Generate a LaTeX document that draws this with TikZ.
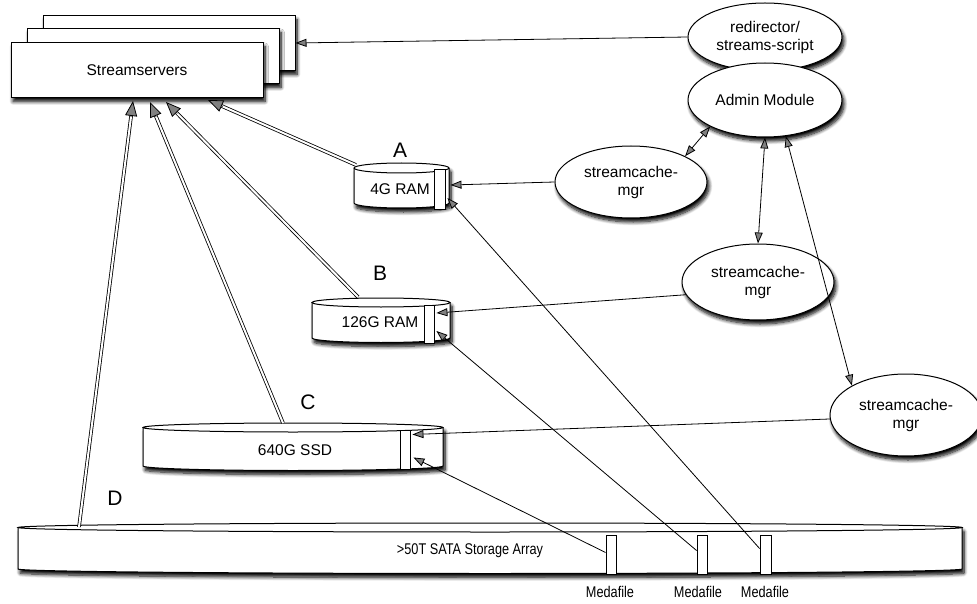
\documentclass[tikz,border=0pt]{standalone}
\usepackage{fontspec}
\setmainfont{Liberation Sans}
\newfontfamily\narrowfont[FakeStretch=0.82]{Liberation Sans}
\usetikzlibrary{arrows.meta,shadows.blur,shapes.geometric,calc}
\newcommand{\drawcyl}[5]{%
  \fill[white,shd] (#1,#3) -- (#1,#4) arc[start angle=180,end angle=0,x radius={(#2-#1)/2},y radius=#5] -- (#2,#3) arc[start angle=0,end angle=-180,x radius={(#2-#1)/2},y radius=#5] -- cycle;
  \draw[line width=1pt] (#1,#3) -- (#1,#4) arc[start angle=180,end angle=0,x radius={(#2-#1)/2},y radius=#5] -- (#2,#3);
  \draw[line width=1pt] ({(#1+#2)/2},#3) ellipse[x radius={(#2-#1)/2},y radius=#5];
}
\newcommand{\fatarrow}[2]{%
  \draw[double,double distance=2pt,line width=0.8pt,shorten >=12pt] (#1) -- (#2);
  \draw[-{Triangle[length=15pt,width=12pt]},line width=0.8pt] ($(#2)!16pt!(#1)$) -- (#2);
}
\begin{document}
\begin{tikzpicture}[x=1pt,y=-1pt,
  shd/.style={blur shadow={shadow xshift=2pt,shadow yshift=-4pt,shadow blur steps=8,shadow blur radius=3.5pt,shadow opacity=100}},
  srv/.style={draw,fill=white,line width=1pt,minimum width=252pt,minimum height=55pt,shd,font=\fontsize{15.5}{18}\selectfont},
  ell/.style={ellipse,draw,fill=white,line width=1pt,shd,align=center,inner sep=0pt,font=\fontsize{15.5}{18}\selectfont},
  slot/.style={draw,fill=white,line width=0.9pt,inner sep=0pt},
  txt/.style={font=\fontsize{15.5}{18}\selectfont},
  lbl/.style={font=\fontsize{21}{24}\selectfont},
  med/.style={font=\narrowfont\fontsize{15.5}{18}\selectfont},
  ar/.style={-{Triangle[length=11pt,width=8pt]},line width=0.8pt},
  dar/.style={{Triangle[length=11pt,width=8pt]}-{Triangle[length=11pt,width=8pt]},line width=0.8pt}]
\useasboundingbox (0,0) rectangle (977,604);
% streamservers stack
\node[srv] (s3) at (169,43) {};
\node[srv] (s2) at (153,56) {};
\node[srv] (s1) at (137,70) {Streamservers};
% ellipses
\node[ell,minimum width=154pt,minimum height=68pt] (red) at (765,37) {redirector/\\streams-script};
\node[ell,minimum width=154pt,minimum height=74pt] (adm) at (765,100) {Admin Module};
\node[ell,minimum width=152pt,minimum height=72pt] (m1) at (631,182) {streamcache-\\mgr};
\node[ell,minimum width=152pt,minimum height=76pt] (m2) at (758,282) {streamcache-\\mgr};
\node[ell,minimum width=152pt,minimum height=82pt] (m3) at (906,415) {streamcache-\\mgr};
% cylinders
\drawcyl{354}{449}{168}{203}{5}
\drawcyl{312}{450}{302.5}{338}{4.5}
\drawcyl{143}{443}{427.5}{466}{4.5}
\drawcyl{18}{962}{527.5}{569}{4.5}
\node[txt] (ta) at (400,189) {4G RAM};
\node[txt] (tb) at (380,322) {126G RAM};
\node[txt] (tc) at (295,450) {640G SSD};
\node[med] (td) at (470,551) {>50T SATA Storage Array};
\node[lbl] (la) at (400,150) {A};
\node[lbl] (lb) at (380,273) {B};
\node[lbl] (lc) at (308,402) {C};
\node[lbl] (ld) at (115,498) {D};
% slots
\node[slot,minimum width=11pt,minimum height=40pt] (sa) at (439.5,189) {};
\node[slot,minimum width=10pt,minimum height=38pt] (sb) at (429,324) {};
\node[slot,minimum width=10pt,minimum height=39pt] (sc) at (405,449.5) {};
\node[slot,minimum width=10pt,minimum height=39pt] (d1) at (611,554.5) {};
\node[slot,minimum width=10pt,minimum height=39pt] (d2) at (702,554.5) {};
\node[slot,minimum width=11pt,minimum height=39pt] (d3) at (765.5,554.5) {};
\node[med] (n1) at (610,592) {Medafile};
\node[med] (n2) at (698,592) {Medafile};
\node[med] (n3) at (765,592) {Medafile};
% anchor coordinates on the cylinders
\coordinate (atop) at (356,165);
\coordinate (btop) at (358,297);
\coordinate (ctop) at (283,423);
\coordinate (dtop) at (79,527);
\coordinate (aend) at (208,100);
\coordinate (bend) at (166,102);
\coordinate (cend) at (150,102);
\coordinate (dend) at (133,101);
% fat arrows to streamservers
\fatarrow{atop}{aend}
\fatarrow{btop}{bend}
\fatarrow{ctop}{cend}
\fatarrow{dtop}{dend}
% thin arrows
\draw[ar] (red.west) -- (s3.east);
\draw[ar] (m1.west) -- ([xshift=5pt,yshift=4pt]sa.east);
\draw[ar] (m2.190) -- ([xshift=2pt,yshift=11pt]sb.east);
\draw[ar] (m3.183) -- ([xshift=2pt,yshift=15pt]sc.east);
\draw[ar] ([yshift=2pt]d1.west) -- ([xshift=3pt,yshift=-8pt]sc.east);
\draw[ar] ([yshift=4pt]d2.west) -- ([xshift=2pt,yshift=-7pt]sb.east);
\draw[ar] ([yshift=6pt]d3.west) -- ([xshift=2pt,yshift=-9pt]sa.east);
\draw[dar] (m1.north east) -- (adm.south west);
\draw[dar] (m2.north) -- (adm.south);
\draw[dar] (m3.north west) -- (adm.-60);
\end{tikzpicture}
\end{document}
